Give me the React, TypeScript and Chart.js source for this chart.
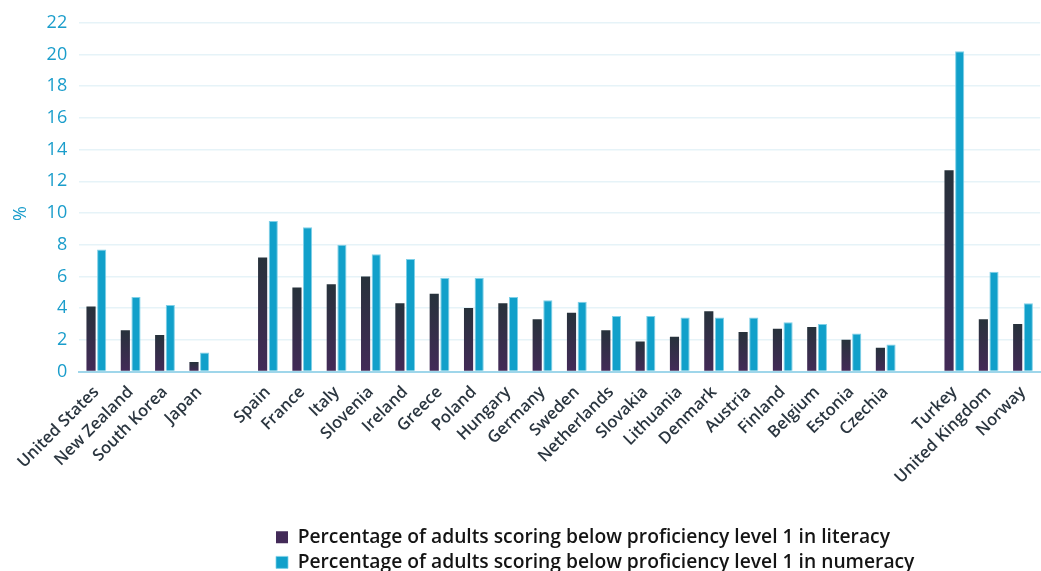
import React, { useEffect, useRef } from "react";
import { Chart, registerables } from "chart.js";

Chart.register(...registerables);

const categories: string[] = [
  "United States", "New Zealand", "South Korea", "Japan", "",
  "Spain", "France", "Italy", "Slovenia", "Ireland", "Greece", "Poland", "Hungary",
  "Germany", "Sweden", "Netherlands", "Slovakia", "Lithuania", "Denmark", "Austria",
  "Finland", "Belgium", "Estonia", "Czechia", "",
  "Turkey", "United Kingdom", "Norway",
];

const literacy: (number | null)[] = [
  4.1, 2.6, 2.3, 0.6, null,
  7.2, 5.3, 5.5, 6.0, 4.3, 4.9, 4.0, 4.3,
  3.3, 3.7, 2.6, 1.9, 2.2, 3.8, 2.5,
  2.7, 2.8, 2.0, 1.5, null,
  12.7, 3.3, 3.0,
];

const numeracy: (number | null)[] = [
  7.7, 4.7, 4.2, 1.2, null,
  9.5, 9.1, 8.0, 7.4, 7.1, 5.9, 5.9, 4.7,
  4.5, 4.4, 3.5, 3.5, 3.4, 3.4, 3.4,
  3.1, 3.0, 2.4, 1.7, null,
  20.2, 6.3, 4.3,
];

const yTicks: number[] = [0, 2, 4, 6, 8, 10, 12, 14, 16, 18, 20, 22];

const seriesLabels: string[] = [
  "Percentage of adults scoring below proficiency level 1 in literacy",
  "Percentage of adults scoring below proficiency level 1 in numeracy",
];

const yTitle = "%";

const BLUE = "#11a0ca";
const TICK_BLUE = "#1a9dcb";
const DARK_TOP = "#27323b";
const DARK_BOTTOM = "#432a58";
const CANVAS_W = 1048;
const CANVAS_H = 571;

const legendAlignPlugin = {
  id: "legendAlign",
  beforeDraw(chart: any) {
    const lg = chart.legend;
    if (!lg || !lg.lineWidths) return;
    const pad = lg.options.labels.padding;
    const target = 276;
    const lw = lg.left + pad + lg.right - 2 * target;
    lg.lineWidths = lg.lineWidths.map(() => lw);
  },
};

export default function App() {
  const canvasRef = useRef<HTMLCanvasElement | null>(null);

  useEffect(() => {
    if (!canvasRef.current) return;
    const chart = new Chart(canvasRef.current, {
      type: "bar",
      data: {
        labels: categories,
        datasets: [
          {
            label: seriesLabels[0],
            data: literacy,
            backgroundColor: (ctx: any) => {
              const c = ctx.chart;
              const y = c.scales && c.scales.y;
              if (!y || ctx.raw == null || ctx.dataIndex === undefined) return "#34304a";
              const top = y.getPixelForValue(ctx.raw);
              const bot = y.getPixelForValue(0);
              if (!isFinite(top) || !isFinite(bot) || bot - top < 1) return "#34304a";
              const g = c.ctx.createLinearGradient(0, top, 0, bot);
              g.addColorStop(0, DARK_TOP);
              g.addColorStop(1, DARK_BOTTOM);
              return g;
            },
            borderWidth: 0,
            categoryPercentage: 0.62,
            barPercentage: 0.86,
          },
          {
            label: seriesLabels[1],
            data: numeracy,
            backgroundColor: BLUE,
            borderColor: "#7fd0e8",
            borderWidth: { top: 1, left: 1, right: 1, bottom: 0 },
            categoryPercentage: 0.62,
            barPercentage: 0.86,
          },
        ],
      },
      options: {
        responsive: false,
        maintainAspectRatio: false,
        animation: false,
        layout: { padding: { top: 3, right: 0, left: 6, bottom: -11 } },
        plugins: {
          tooltip: { enabled: false },
          legend: {
            position: "bottom",
            labels: {
              boxWidth: 12,
              boxHeight: 12,
              padding: 6,
              color: "#141414",
              font: { family: "'Open Sans', sans-serif", size: 19.25, weight: "600" },
            },
          },
        },
        scales: {
          x: {
            grid: { display: false, drawTicks: false },
            border: { display: true, color: "#9fd6ea", width: 2 },
            afterFit: (scale: any) => {
              scale.height = 150;
            },
            ticks: {
              autoSkip: false,
              maxRotation: 45,
              minRotation: 45,
              padding: 11,
              color: "#2b3640",
              font: { family: "'Open Sans', sans-serif", size: 16.5, weight: "600" },
            },
          },
          y: {
            min: 0,
            max: 22,
            afterBuildTicks: (axis: any) => {
              axis.ticks = yTicks.map((v) => ({ value: v }));
            },
            grid: { color: "#e6f3f8", lineWidth: 1.5, drawTicks: false },
            border: { display: false },
            ticks: {
              padding: 12,
              color: TICK_BLUE,
              font: { family: "'Open Sans', sans-serif", size: 18 },
            },
            title: {
              display: true,
              text: yTitle + "       ",
              color: TICK_BLUE,
              padding: { top: 4, bottom: 3 },
              font: { family: "'Open Sans', sans-serif", size: 18 },
            },
          },
        },
      },
      plugins: [legendAlignPlugin],
    });
    return () => chart.destroy();
  }, []);

  return (
    <div style={{ position: "fixed", left: 0, top: 0, width: 1041, height: 571, overflow: "hidden", background: "#fff" }}>
      <canvas ref={canvasRef} width={CANVAS_W} height={CANVAS_H} style={{ width: CANVAS_W, height: CANVAS_H, display: "block" }} />
    </div>
  );
}
